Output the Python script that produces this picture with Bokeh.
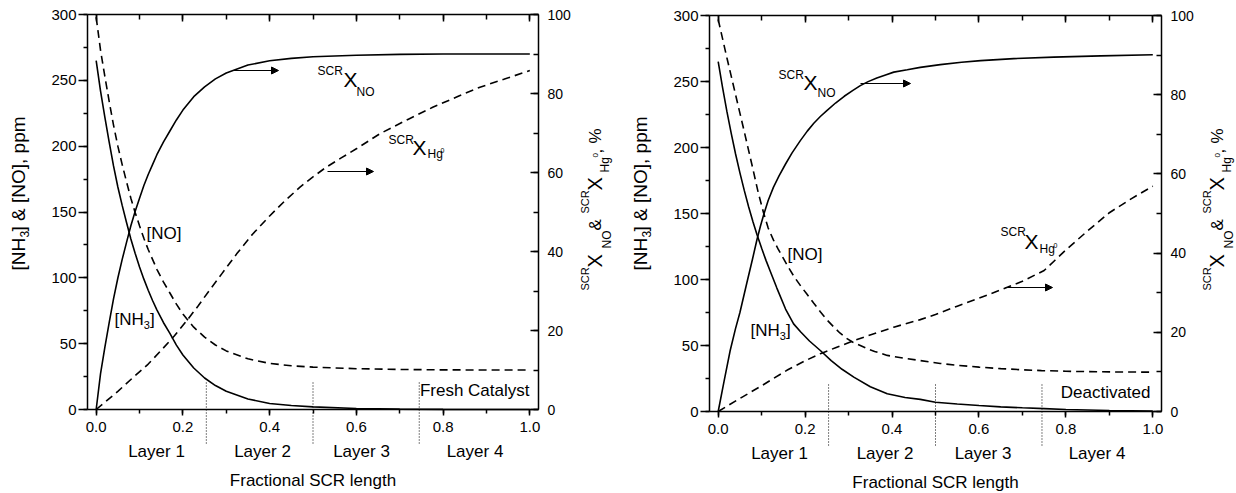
import numpy as np
from bokeh.plotting import figure
from bokeh.models import (Range1d, LinearAxis, SingleIntervalTicker, PrintfTickFormatter,
                          Label, Arrow, NormalHead)
from bokeh.layouts import row
from bokeh.embed import file_html
from bokeh.resources import INLINE

FONT = "Liberation Sans"

# ---------------- data: fresh catalyst ----------------
fresh_x = [0, 0.01, 0.02, 0.03, 0.04, 0.05, 0.06, 0.07, 0.08, 0.09, 0.10, 0.11, 0.12,
           0.13, 0.14, 0.155, 0.17, 0.185, 0.20, 0.225, 0.25, 0.275, 0.30, 0.35, 0.40,
           0.45, 0.50, 0.60, 0.70, 0.80, 0.90, 1.0]
fresh_nh3 = [265, 242, 222, 203, 185, 169, 155, 142, 129.5, 118.5, 108.3, 99, 90.6,
             82.8, 75.7, 66.1, 57.8, 48.9, 41.4, 31.5, 23.9, 18.2, 13.8, 8.0, 4.6,
             3.0, 2.0, 0.8, 0.3, 0.1, 0.05, 0.0]
fresh_no = [298, 273, 253, 234, 216, 200, 186, 173, 160.5, 149.5, 139.5, 130, 121.5,
            114, 106.5, 97, 88.5, 80, 72.5, 62.5, 55, 49, 44.5, 38.5, 35,
            33.2, 32.2, 31, 30.4, 30.1, 30, 30]
fresh_xno = [0, 9, 15.7, 22, 28, 33.3, 38, 42.3, 46.5, 50.2, 53.5, 56.7, 59.5,
             62, 64.5, 67.7, 70.5, 73.3, 75.8, 79.2, 81.7, 83.7, 85.2, 87.2, 88.3,
             88.9, 89.3, 89.7, 89.9, 90, 90, 90]
fresh_xhg_x = [0, 0.05, 0.086, 0.12, 0.15, 0.18, 0.209, 0.235, 0.26, 0.29, 0.324, 0.36,
               0.40, 0.435, 0.47, 0.50, 0.53, 0.565, 0.60, 0.654, 0.72, 0.776, 0.835,
               0.885, 0.94, 1.0]
fresh_xhg = [0, 4.6, 8.2, 11.5, 15, 18.6, 22.5, 26.2, 30, 34.4, 39.4, 44.3,
             49, 52.8, 56.3, 58.9, 61.3, 63.7, 66, 69.8, 73.5, 76.5, 79.3,
             81.6, 83.6, 85.8]

# ---------------- data: deactivated catalyst ----------------
deact_nh3_x = [0, 0.01, 0.02, 0.03, 0.04, 0.05, 0.06, 0.07, 0.08, 0.089, 0.10, 0.11,
               0.12, 0.135, 0.155, 0.1735, 0.19, 0.21, 0.235, 0.26, 0.285, 0.312, 0.35,
               0.389, 0.43, 0.465, 0.50, 0.55, 0.60, 0.65, 0.70, 0.75, 0.80, 0.90, 1.0]
deact_nh3 = [265, 245.6, 227.3, 210.7, 195.1, 180.8, 167.5, 155.1, 143.7, 134.3, 123.6, 114.5,
             106.1, 93.5, 77.6, 66.4, 60.2, 53.4, 46.2, 38.5, 32, 26, 18.8,
             13.4, 10.6, 9.2, 7, 5.7, 4.5, 3.5, 2.8, 2.2, 1.5, 0.8, 0.4]
deact_no_x = [0, 0.02, 0.04, 0.06, 0.079, 0.092, 0.104, 0.115, 0.127, 0.138, 0.15, 0.162,
              0.175, 0.19, 0.204, 0.22, 0.235, 0.25, 0.266, 0.28, 0.295, 0.31, 0.327,
              0.345, 0.36, 0.389, 0.43, 0.465, 0.511, 0.55, 0.6, 0.65, 0.7, 0.744, 0.8,
              0.85, 0.9, 1.0]
deact_no = [297, 268, 240, 212, 185, 166, 151, 139, 130, 123, 116, 109,
            102, 95, 89, 82, 75.5, 69.5, 64, 59.5, 55.5, 52.5, 50,
            47.3, 45.5, 42.5, 40.2, 38.6, 36.4, 35, 33.6, 32.5, 31.6, 31, 30.5,
            30.2, 30, 29.8]
deact_xno_x = [0, 0.0138, 0.0276, 0.04, 0.05, 0.066, 0.079, 0.089, 0.097, 0.105, 0.115,
               0.127, 0.14, 0.155, 0.17, 0.189, 0.205, 0.22, 0.235, 0.25, 0.27, 0.29,
               0.31, 0.327, 0.345, 0.365, 0.385, 0.404, 0.435, 0.465, 0.511, 0.56,
               0.604, 0.68, 0.772, 0.88, 1.0]
deact_xno = [0, 7.8, 15.4, 21, 25, 32.5, 38.5, 43.3, 46.7, 49.8, 53.3,
             56.6, 59.5, 62.5, 65.3, 68.4, 70.8, 72.8, 74.5, 76.0, 77.9, 79.6,
             81.1, 82.3, 83.3, 84.2, 85.0, 85.7, 86.3, 86.9, 87.6, 88.2,
             88.6, 89.1, 89.5, 89.8, 90.1]
deact_xhg_x = [0, 0.05, 0.10, 0.158, 0.20, 0.235, 0.27, 0.312, 0.36, 0.404, 0.465, 0.50,
               0.55, 0.60, 0.65, 0.70, 0.75, 0.775, 0.80, 0.85, 0.90, 0.95, 1.0]
deact_xhg = [0, 3.3, 6.5, 10.4, 12.8, 14.6, 16.1, 17.9, 19.7, 21.3, 23.2, 24.5,
             26.6, 28.6, 30.7, 32.9, 35.6, 38.2, 40.8, 45.6, 50.2, 53.7, 56.9]

layer_bounds = [0.254, 0.5, 0.745]
layer_names = ["Layer 1", "Layer 2", "Layer 3", "Layer 4"]
x_title = "Fractional SCR length"

# panel geometry in global px: figure offset, frame left, frame width, frame top, frame height
PANELS = {
    1: dict(off=0, x0=87, w=451, top=14, h=395, width=620),
    2: dict(off=620, x0=709, w=452, top=15, h=396, width=616),
}
H = 493
BASE_SHIFT = 0.3   # baseline correction, fraction of font size


def to_x(pn, px):
    g = PANELS[pn]
    return -0.02 + (px - g["x0"]) / g["w"] * 1.04


def to_ppm(pn, py):
    g = PANELS[pn]
    return (g["top"] + g["h"] - py) / g["h"] * 300.0


def to_pct(pn, py):
    return to_ppm(pn, py) / 3.0


def lab(p, pn, px, py, text, size, align="left", angle=0.0):
    if angle == 0.0:
        py = py - BASE_SHIFT * size
    else:
        px = px - BASE_SHIFT * size
    p.add_layout(Label(x=to_x(pn, px), y=to_ppm(pn, py), text=text,
                       text_font=FONT, text_font_size=f"{size}px",
                       text_align=align, text_baseline="alphabetic",
                       angle=angle, text_color="black"))


def make_panel(pn):
    g = PANELS[pn]
    xr = Range1d(to_x(pn, g["off"]), to_x(pn, g["off"] + g["width"]))
    yr_ = Range1d(to_ppm(pn, H), to_ppm(pn, 0))
    p = figure(width=g["width"], height=H, x_range=xr, y_range=yr_, title=None,
               output_backend="svg", toolbar_location=None,
               min_border_left=0, min_border_right=0,
               min_border_top=0, min_border_bottom=0,
               x_axis_location=None, y_axis_location=None)
    p.extra_y_ranges = {"pct": Range1d(to_pct(pn, H), to_pct(pn, 0))}
    p.outline_line_color = None
    p.background_fill_color = "white"
    p.border_fill_color = "white"
    for gr in p.grid:
        gr.visible = False

    def style(ax, tin, tout, min_in, min_out, size=15, standoff=4):
        ax.axis_line_width = 1.5
        ax.major_tick_line_width = 1.5
        ax.minor_tick_line_width = 1.5
        ax.major_tick_in = tin
        ax.major_tick_out = tout
        ax.minor_tick_in = min_in
        ax.minor_tick_out = min_out
        ax.major_label_text_font = FONT
        ax.major_label_text_font_size = f"{size}px"
        ax.major_label_text_color = "black"
        ax.major_label_standoff = standoff

    xb = LinearAxis(ticker=SingleIntervalTicker(interval=0.2, num_minor_ticks=2),
                    formatter=PrintfTickFormatter(format="%.1f"),
                    fixed_location=0, bounds=(-0.02, 1.02))
    style(xb, 0, 6, 0, 4, 15, 6)
    p.add_layout(xb, "below")

    xt = LinearAxis(ticker=SingleIntervalTicker(interval=0.2, num_minor_ticks=2),
                    fixed_location=300, bounds=(-0.02, 1.02))
    style(xt, 7, 0, 5, 0, 1, 0)
    xt.major_label_text_color = None
    p.add_layout(xt, "above")

    yl = LinearAxis(ticker=SingleIntervalTicker(interval=50, num_minor_ticks=2),
                    fixed_location=-0.02, bounds=(0, 300))
    style(yl, 0, 9, 0, 4, 15, 2)
    p.add_layout(yl, "left")

    yr = LinearAxis(y_range_name="pct",
                    ticker=SingleIntervalTicker(interval=20, num_minor_ticks=2),
                    fixed_location=1.02, bounds=(0, 100))
    style(yr, 8, 0, 5, 0, 14, 9)
    p.add_layout(yr, "right")
    return p


DASH = "8 5"


def draw(p, pn, nh3x, nh3, nox, no, xnox, xno, xhgx, xhg):
    p.line(nh3x, nh3, line_color="black", line_width=1.6)
    p.line(nox, no, line_color="black", line_width=1.6, line_dash=DASH)
    p.line(xnox, xno, line_color="black", line_width=1.6, y_range_name="pct")
    p.line(xhgx, xhg, line_color="black", line_width=1.6, line_dash=DASH, y_range_name="pct")
    base = PANELS[pn]["top"] + PANELS[pn]["h"]
    n = len(layer_bounds)
    p.segment(x0=layer_bounds, x1=layer_bounds,
              y0=[to_ppm(pn, base - 27)] * n, y1=[to_ppm(pn, base + 36)] * n,
              line_color="black", line_width=1, line_dash="1 2")


def arrow(p, pn, px1, px2, py):
    p.add_layout(Arrow(x_start=to_x(pn, px1), x_end=to_x(pn, px2),
                       y_start=to_pct(pn, py), y_end=to_pct(pn, py), y_range_name="pct",
                       line_color="black", line_width=1.2,
                       end=NormalHead(size=7, fill_color="black", line_color="black",
                                      line_width=1)))


def rot_ylabels(p, pn, dx):
    a = np.pi / 2
    # left axis title: [NH3] & [NO], ppm
    lab(p, pn, 24 + dx, 270, "[NH", 19, angle=a)
    lab(p, pn, 28 + dx, 237, "3", 12, angle=a)
    lab(p, pn, 24 + dx, 231, "] & [NO], ppm", 19, angle=a)
    # right axis title: SCRX_NO & SCRX_Hg0, %
    lab(p, pn, 588 + dx, 290, "SCR", 11, angle=a)
    lab(p, pn, 600 + dx, 267, "X", 20, angle=a)
    lab(p, pn, 610 + dx, 248, "NO", 12, angle=a)
    lab(p, pn, 600 + dx, 230, "&", 17, angle=a)
    lab(p, pn, 588 + dx, 213, "SCR", 11, angle=a)
    lab(p, pn, 600 + dx, 190, "X", 20, angle=a)
    lab(p, pn, 608 + dx, 172, "Hg", 12, angle=a)
    lab(p, pn, 597 + dx, 157, "0", 8, angle=a)
    lab(p, pn, 601 + dx, 153, ",", 17, angle=a)
    lab(p, pn, 600 + dx, 143, "%", 17, angle=a)


# ---------------- panel 1 ----------------
p1 = make_panel(1)
draw(p1, 1, fresh_x, fresh_nh3, fresh_x, fresh_no,
     fresh_x, fresh_xno, fresh_xhg_x, fresh_xhg)
arrow(p1, 1, 232, 278, 70)
arrow(p1, 1, 327, 373, 171)
lab(p1, 1, 317, 74, "SCR", 12)
lab(p1, 1, 343, 85, "X", 21)
lab(p1, 1, 356, 95, "NO", 12)
lab(p1, 1, 388, 143, "SCR", 12)
lab(p1, 1, 412, 153, "X", 21)
lab(p1, 1, 427, 157, "Hg", 12)
lab(p1, 1, 440, 152, "0", 7)
lab(p1, 1, 146, 238, "[NO]", 17)
lab(p1, 1, 114, 324, "[NH", 17)
lab(p1, 1, 143.3, 328, "3", 11)
lab(p1, 1, 149.5, 324, "]", 17)
lab(p1, 1, 529, 395, "Fresh Catalyst", 17, align="right")
for cx, name in zip([156, 262, 361, 474.5], layer_names):
    lab(p1, 1, cx, 456, name, 17, align="center")
lab(p1, 1, 312.5, 485, x_title, 17, align="center")
rot_ylabels(p1, 1, 0)

# ---------------- panel 2 ----------------
p2 = make_panel(2)
draw(p2, 2, deact_nh3_x, deact_nh3, deact_no_x, deact_no,
     deact_xno_x, deact_xno, deact_xhg_x, deact_xhg)
arrow(p2, 2, 860, 910, 83)
arrow(p2, 2, 1005, 1052, 287)
lab(p2, 2, 778, 78, "SCR", 12)
lab(p2, 2, 803, 88, "X", 21)
lab(p2, 2, 817, 96, "NO", 12)
lab(p2, 2, 1000, 235, "SCR", 12)
lab(p2, 2, 1024, 247, "X", 21)
lab(p2, 2, 1039, 252, "Hg", 12)
lab(p2, 2, 1053, 247, "0", 7)
lab(p2, 2, 787, 259, "[NO]", 17)
lab(p2, 2, 750, 335, "[NH", 17)
lab(p2, 2, 779.3, 339, "3", 11)
lab(p2, 2, 785.5, 335, "]", 17)
lab(p2, 2, 1150, 397, "Deactivated", 17, align="right")
for cx, name in zip([779, 884.5, 982.5, 1096.5], layer_names):
    lab(p2, 2, cx, 458, name, 17, align="center")
lab(p2, 2, 935, 487, x_title, 17, align="center")
rot_ylabels(p2, 2, 622)

layout = row(p1, p2)
open("out.html", "w").write(file_html(layout, INLINE))
